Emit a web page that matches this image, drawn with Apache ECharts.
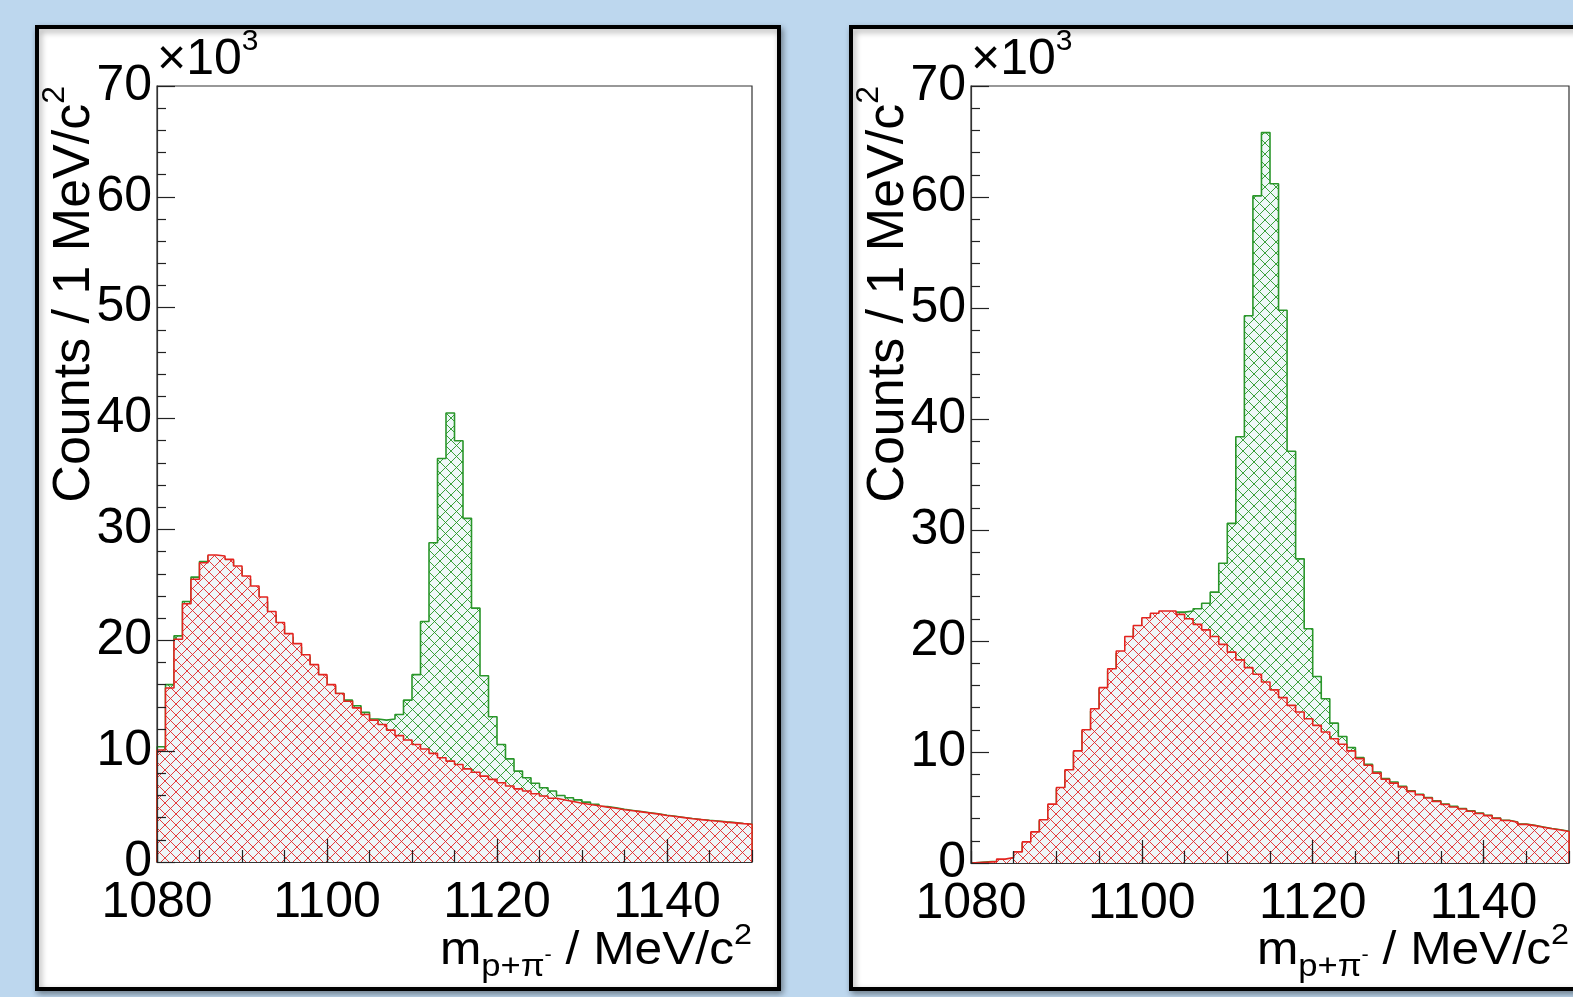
<!DOCTYPE html>
<html><head><meta charset="utf-8">
<script src="https://cdn.jsdelivr.net/npm/echarts@6/dist/echarts.min.js"></script>
<style>html,body{margin:0;padding:0;background:#bdd7ee;}#c{width:1573px;height:997px;}</style>
</head><body><div id="c"></div>
<script>
// ---- data (counts per 1 MeV/c^2 bin, in units of 10^3) ----
const X_MIN = 1080, X_MAX = 1150, BIN = 1;
const X_TICK_STEP = 20, X_MINOR_STEP = 5;
const Y_MIN = 0, Y_MAX = 70, Y_TICK_STEP = 10;
const Y_EXPONENT_LABEL = '×10';
const Y_EXPONENT_POWER = '3';

const totalLeft = [10.4,16.0,20.4,23.5,25.7,27.1,27.6,27.4,27.2,26.5,25.5,24.7,23.5,22.3,21.3,20.3,19.4,18.5,17.6,16.7,
  15.9,15.2,14.6,14.1,13.5,12.9,12.8,12.9,13.3,14.6,16.9,21.7,28.8,36.4,40.5,38.0,31.0,22.9,16.8,13.1,
  10.6,9.3,8.2,7.6,7.1,6.7,6.4,6.0,5.8,5.6,5.4,5.2,5.0,4.9,4.75,4.65,4.55,4.45,4.35,4.22,
  4.12,4.02,3.92,3.83,3.76,3.7,3.62,3.55,3.47,3.4];
const bkgLeft = [10.1,15.7,20.1,23.3,25.5,27.0,27.7,27.6,27.3,26.7,25.8,24.9,23.9,22.6,21.6,20.6,19.7,18.7,17.8,16.9,
  16.0,15.2,14.5,13.9,13.3,12.8,12.4,11.9,11.4,11.0,10.6,10.2,9.8,9.4,9.1,8.8,8.4,8.1,7.75,7.45,
  7.15,6.85,6.6,6.4,6.15,5.95,5.75,5.6,5.45,5.3,5.18,5.08,4.95,4.85,4.72,4.62,4.52,4.42,4.32,4.2,
  4.1,4.0,3.9,3.82,3.74,3.68,3.6,3.53,3.46,3.4];
const totalRight = [0.05,0.1,0.15,0.3,0.45,1.0,1.8,2.7,3.8,5.2,6.7,8.3,10.0,11.9,13.7,15.7,17.3,18.9,20.1,21.1,
  21.9,22.3,22.5,22.6,22.6,22.7,22.9,23.4,24.4,27.0,30.6,38.4,49.3,60.1,65.8,61.2,49.8,37.1,27.4,21.1,
  16.8,14.8,12.6,11.4,10.4,9.5,8.9,8.2,7.6,7.3,6.9,6.5,6.2,5.9,5.6,5.3,5.1,4.9,4.7,4.5,
  4.3,4.05,3.85,3.7,3.5,3.4,3.25,3.1,3.0,2.85];
const bkgRight = [0.05,0.08,0.12,0.35,0.5,1.0,1.9,2.8,3.9,5.3,6.8,8.4,10.1,12.0,13.9,15.8,17.5,19.1,20.4,21.4,
  22.1,22.5,22.7,22.7,22.4,22.0,21.5,21.0,20.4,19.7,19.0,18.3,17.6,17.0,16.3,15.6,14.9,14.2,13.6,13.0,
  12.4,11.8,11.2,10.7,10.1,9.4,8.8,8.1,7.55,7.2,6.85,6.45,6.15,5.85,5.55,5.27,5.05,4.86,4.66,4.46,
  4.27,4.02,3.83,3.67,3.48,3.37,3.22,3.08,2.97,2.83];

const Y_TITLE = 'Counts / 1 MeV/c';
const X_TITLE_MAIN = 'm', X_TITLE_SUB = 'p+π', X_TITLE_SUBSUP = '-', X_TITLE_UNIT = ' / MeV/c';

// ---- styling ----
const FONT = 'Liberation Sans';
const GREEN = '#2a962a', RED = '#e3241f';
const FILL_BG = '#eef7f8';

function hatchPattern(lineColor, bg) {
  const s = 11;
  const cv = document.createElement('canvas');
  cv.width = s; cv.height = s;
  const g = cv.getContext('2d');
  if (bg) { g.fillStyle = bg; g.fillRect(0, 0, s, s); }
  g.strokeStyle = lineColor; g.lineWidth = 1;
  g.beginPath();
  g.moveTo(-1, -1); g.lineTo(s + 1, s + 1);
  g.moveTo(s + 1, -1); g.lineTo(-1, s + 1);
  g.stroke();
  return { image: cv, repeat: 'repeat' };
}

function stepData(vals) {
  const d = [[X_MIN, 0]];
  vals.forEach((v, i) => d.push([X_MIN + i * BIN, v]));
  d.push([X_MIN + vals.length * BIN, vals[vals.length - 1]]);
  d.push([X_MIN + vals.length * BIN, 0]);
  return d;
}

const measureCtx = document.createElement('canvas').getContext('2d');
function pieceGroup(pieces, x, y, align, rotation, scaleX) {
  let cur = 0;
  const els = pieces.map(p => {
    measureCtx.font = p.size + 'px "' + FONT + '"';
    const w = measureCtx.measureText(p.t).width;
    const el = { type: 'text', x: cur, y: p.dy || 0,
      style: { text: p.t, fontSize: p.size, fontFamily: FONT, fill: '#000',
               align: 'left', verticalAlign: 'middle' } };
    cur += w;
    return el;
  });
  const shift = align === 'right' ? -cur : (align === 'center' ? -cur / 2 : 0);
  els.forEach(e => e.x += shift);
  return { type: 'group', x: x, y: y, rotation: rotation || 0, scaleX: scaleX || 1, children: els, z: 20 };
}

const grids = [
  { left: 157, top: 86, width: 595, height: 776 },
  { left: 971, top: 86, width: 598, height: 777 }
];

const xAxes = [], yAxes = [], series = [], graphics = [];
const greenPat = hatchPattern('rgba(38,150,38,0.9)', FILL_BG);
const redPat = hatchPattern('rgba(226,40,40,0.9)', FILL_BG);

const panels = [ { total: totalLeft, bkg: bkgLeft }, { total: totalRight, bkg: bkgRight } ];
const plainNum = v => String(v);

panels.forEach((p, gi) => {
  xAxes.push({
    type: 'value', gridIndex: gi, min: X_MIN, max: X_MAX, interval: X_TICK_STEP, position: 'bottom', z: 10,
    axisLine: { show: true, onZero: false, lineStyle: { color: '#333', width: 1.2 } },
    axisTick: { show: true, inside: true, length: 23, lineStyle: { color: '#222', width: 1.2 } },
    minorTick: { show: false }, splitLine: { show: false },
    axisLabel: { show: true, fontSize: 50, fontFamily: FONT, color: '#000', margin: 16, showMaxLabel: false, hideOverlap: false, formatter: plainNum }
  });
  xAxes.push({
    type: 'value', gridIndex: gi, min: X_MIN, max: X_MAX, interval: X_MINOR_STEP, position: 'bottom', z: 10,
    axisLine: { show: false }, splitLine: { show: false },
    axisTick: { show: true, inside: true, length: 12, lineStyle: { color: '#222', width: 1.2 } },
    axisLabel: { show: false }
  });
  yAxes.push({
    type: 'value', gridIndex: gi, min: Y_MIN, max: Y_MAX, interval: Y_TICK_STEP, z: 10,
    axisLine: { show: true, onZero: false, lineStyle: { color: '#333', width: 1.2 } },
    axisTick: { show: true, inside: true, length: 18, lineStyle: { color: '#222', width: 1.2 } },
    minorTick: { show: true, splitNumber: 5, length: 9, lineStyle: { color: '#222', width: 1.2 } },
    splitLine: { show: false },
    axisLabel: { show: true, fontSize: 50, fontFamily: FONT, color: '#000', margin: 5, hideOverlap: false, formatter: plainNum }
  });
  series.push({
    type: 'line', xAxisIndex: gi * 2, yAxisIndex: gi, data: stepData(p.total), step: 'end',
    symbol: 'none', showSymbol: false, silent: true, z: 2,
    lineStyle: { color: GREEN, width: 1.6 }, areaStyle: { color: greenPat, opacity: 1 }
  });
  series.push({
    type: 'line', xAxisIndex: gi * 2, yAxisIndex: gi, data: stepData(p.bkg), step: 'end',
    symbol: 'none', showSymbol: false, silent: true, z: 3,
    lineStyle: { color: RED, width: 1.6 }, areaStyle: { color: redPat, opacity: 1 }
  });
});

// panel boxes
graphics.push({ type: 'rect', z: -10, shape: { x: 37, y: 27, width: 742, height: 962 },
  style: { fill: '#fff', stroke: '#000', lineWidth: 4, shadowBlur: 6, shadowOffsetX: 2, shadowOffsetY: 3, shadowColor: 'rgba(0,0,0,0.35)' } });
graphics.push({ type: 'rect', z: -10, shape: { x: 851, y: 27, width: 760, height: 962 },
  style: { fill: '#fff', stroke: '#000', lineWidth: 4, shadowBlur: 6, shadowOffsetX: 2, shadowOffsetY: 3, shadowColor: 'rgba(0,0,0,0.35)' } });

grids.forEach((g, gi) => {
  graphics.push(pieceGroup([{ t: Y_EXPONENT_LABEL, size: 50 }, { t: Y_EXPONENT_POWER, size: 30, dy: -18 }],
    g.left, 60, 'left'));
  graphics.push(pieceGroup([{ t: Y_TITLE, size: 52 }, { t: '2', size: 32, dy: -19 }],
    g.left - 82.5, g.top, 'right', Math.PI / 2));
  graphics.push(pieceGroup([
    { t: X_TITLE_MAIN, size: 46 },
    { t: X_TITLE_SUB, size: 32, dy: 16 },
    { t: X_TITLE_SUBSUP, size: 20, dy: 4 },
    { t: X_TITLE_UNIT, size: 46 },
    { t: '2', size: 30, dy: -15 }
  ], g.left + g.width, 951, 'right', 0, 1.08));
});

const chart = echarts.init(document.getElementById('c'), null, { renderer: 'canvas', width: 1573, height: 997 });
chart.setOption({
  animation: false,
  backgroundColor: '#bdd7ee',
  grid: grids.map(g => Object.assign({ show: true, borderColor: '#333', borderWidth: 1.2, backgroundColor: 'transparent', containLabel: false, outerBoundsMode: 'none' }, g)),
  xAxis: xAxes,
  yAxis: yAxes,
  series: series,
  graphic: graphics
});
</script></body></html>
